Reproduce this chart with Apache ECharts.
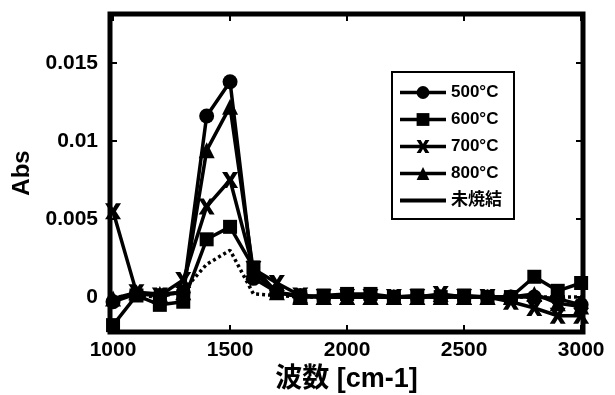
<!DOCTYPE html>
<html><head><meta charset="utf-8">
<script src="https://cdn.jsdelivr.net/npm/echarts@6/dist/echarts.min.js"></script>
<style>html,body{margin:0;padding:0;background:#fff}#c{width:615px;height:395px}</style>
</head><body><div id="c"></div>
<script>
const wavenumbers = [1000,1100,1200,1300,1400,1500,1600,1700,1800,1900,2000,2100,2200,2300,2400,2500,2600,2700,2800,2900,3000];
const s500 = [-0.0003,0.0002,0.0001,0.0003,0.0116,0.0138,0.0012,0.0003,0.0001,0,0,0,0,0,0,0,0,0,0,-0.0001,-0.0005];
const s600 = [-0.0018,0.0001,-0.0005,-0.0003,0.0037,0.0045,0.0019,0.0003,0,0.0001,0.0002,0.0002,0,0.0001,0,0.0001,0,0,0.0013,0.0004,0.0009];
const s700 = [0.0055,0.0003,0.0001,0.0011,0.0058,0.0075,0.0018,0.0009,0.0001,0,0,0,0,0,0.0002,0,0,-0.0003,-0.0007,-0.0012,-0.0012];
const s800 = [-0.0001,0.0003,0.0002,0.0003,0.0094,0.0122,0.0016,0.0003,0,0,0,0,0,0,0,0,0,0,0.0002,-0.0004,-0.0006];
const sRaw = [0,0.0001,0,0.0004,0.0021,0.0030,0.0002,0.0001,0,0,0,0,0,0,0,0,0,0,0,0,0];
const names = ['500°C','600°C','700°C','800°C','未焼結'];
const xTicks = [1000,1500,2000,2500,3000];
const xTickLabels = ['1000','1500','2000','2500','3000'];
const yTicks = [0,0.005,0.01,0.015];
const yTickLabels = ['0','0.005','0.01','0.015'];

const FONT = "'Liberation Sans','Noto Sans CJK JP',sans-serif";
const crossPath = 'path://M0,0 L3.2,0 L5,3 L6.8,0 L10,0 L6.8,5 L10,10 L6.8,10 L5,7 L3.2,10 L0,10 L3.2,5 Z';
function pairs(arr){ return wavenumbers.map((x,i)=>[x,arr[i]]); }
function mk(name, arr, symbol, size){
  return {name, type:'line', data:pairs(arr), symbol, symbolSize:size, clip:false,
    lineStyle:{color:'#000', width:3.5}, itemStyle:{color:'#000'}, z:3};
}
function lookup(ticks, labels){
  return (v)=>{const i=ticks.findIndex(t=>Math.abs(t-v)<1e-9); return i>=0?labels[i]:'';};
}
const tickStyle = {show:true, inside:true, length:7, lineStyle:{color:'#000', width:2}};
const chart = echarts.init(document.getElementById('c'));
chart.setOption({
  animation:false,
  backgroundColor:'#fff',
  grid:{left:110, top:14, right:32, bottom:63, show:true, borderColor:'#000', borderWidth:5, z:5,
        containLabel:false, outerBoundsMode:'none'},
  legend:{
    left:392, top:72, width:143, orient:'vertical',
    borderColor:'#000', borderWidth:2, padding:[12,12,10,6],
    itemWidth:46, itemHeight:16, itemGap:10,
    lineStyle:{width:3.5},
    textStyle:{fontFamily:FONT, fontWeight:'bold', fontSize:17, color:'#000'},
    data:[
      {name:names[0]},{name:names[1]},{name:names[2]},{name:names[3]},
      {name:names[4], itemStyle:{opacity:0}, lineStyle:{type:'solid', width:4, opacity:1}}
    ]
  },
  xAxis:[{
    type:'value', min:987, max:3008, position:'bottom',
    name:'波数 [cm-1]', nameLocation:'middle', nameGap:32,
    nameTextStyle:{fontFamily:FONT, fontWeight:'bold', fontSize:27, color:'#000'},
    axisLine:{show:false, onZero:false}, splitLine:{show:false},
    axisTick:Object.assign({customValues:xTicks}, tickStyle),
    axisLabel:{customValues:xTicks, formatter:lookup(xTicks, xTickLabels), margin:8, fontFamily:FONT, fontWeight:'bold', fontSize:21, color:'#000'}
  },{
    type:'value', min:987, max:3008, position:'top',
    axisLine:{show:false, onZero:false}, splitLine:{show:false}, axisLabel:{show:false},
    axisTick:Object.assign({customValues:xTicks}, tickStyle)
  }],
  yAxis:[{
    type:'value', min:-0.00224, max:0.01814, position:'left',
    name:'Abs', nameLocation:'middle', nameGap:72, nameRotate:90,
    nameTextStyle:{fontFamily:FONT, fontWeight:'bold', fontSize:24, color:'#000'},
    axisLine:{show:false, onZero:false}, splitLine:{show:false},
    axisTick:Object.assign({customValues:yTicks}, tickStyle),
    axisLabel:{customValues:yTicks, formatter:lookup(yTicks, yTickLabels), margin:12, fontFamily:FONT, fontWeight:'bold', fontSize:21, color:'#000'}
  },{
    type:'value', min:-0.00224, max:0.01814, position:'right',
    axisLine:{show:false, onZero:false}, splitLine:{show:false}, axisLabel:{show:false},
    axisTick:Object.assign({customValues:yTicks}, tickStyle)
  }],
  series:[
    mk(names[0], s500, 'circle', 15),
    mk(names[1], s600, 'rect', 14),
    mk(names[2], s700, crossPath, 16),
    mk(names[3], s800, 'triangle', 16),
    {name:names[4], type:'line', data:pairs(sRaw), symbol:'none', clip:false,
     lineStyle:{color:'#000', width:3.5, type:[3,3]}, itemStyle:{color:'#000'}, z:2}
  ]
});
</script></body></html>
